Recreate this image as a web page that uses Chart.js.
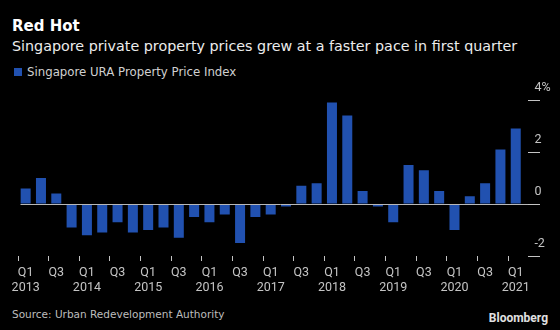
<!DOCTYPE html>
<html>
<head>
<meta charset="utf-8">
<script src="https://cdn.jsdelivr.net/npm/chart.js@4"></script>
<style>
  html, body { margin: 0; padding: 0; background: #000; }
  body { width: 560px; height: 330px; position: relative; overflow: hidden; font-family: "DejaVu Sans", sans-serif; }
  .txt { position: absolute; white-space: nowrap; line-height: 1; }
  #title { left: 12px; top: 19px; font-size: 15px; font-weight: bold; color: #fff; }
  #subtitle { left: 12px; top: 38.6px; font-size: 14.3px; color: #ececec; }
  #legend { left: 14px; top: 66.7px; font-size: 11.75px; color: #d0d0d0; }
  #legend i { display: inline-block; width: 8px; height: 8px; background: #2151b0; margin-right: 5px; vertical-align: 0; }
  #source { left: 12px; top: 309.4px; font-size: 10.5px; color: #bdbdbd; }
  #brand { right: 12px; top: 312px; font-size: 12px; font-weight: bold; color: #e0e0e0; font-family: Roboto, sans-serif; }
  #wrap { position: absolute; left: 0; top: 80px; width: 560px; height: 215px; }
</style>
</head>
<body>
<div class="txt" id="title">Red Hot</div>
<div class="txt" id="subtitle">Singapore private property prices grew at a faster pace in first quarter</div>
<div class="txt" id="legend"><i></i>Singapore URA Property Price Index</div>
<div class="txt" id="source">Source: Urban Redevelopment Authority</div>
<div class="txt" id="brand">Bloomberg</div>
<div id="wrap"><canvas id="chart"></canvas></div>
<script>
    // Quarterly change in the URA private residential price index, %
    const years = [2013, 2014, 2015, 2016, 2017, 2018, 2019, 2020, 2021];
    const quarterNames = ['Q1', 'Q2', 'Q3', 'Q4'];
    const priceChange = [
        0.6, 1.0, 0.4, -0.9,
        -1.2, -1.1, -0.7, -1.1,
        -1.0, -0.9, -1.3, -0.5,
        -0.7, -0.4, -1.5, -0.5,
        -0.4, -0.1, 0.7, 0.8,
        3.9, 3.4, 0.5, -0.1,
        -0.7, 1.5, 1.3, 0.5,
        -1.0, 0.3, 0.8, 2.1,
        2.9
    ];
    const yTicks = [-2, 0, 2, 4];

    const quarters = [];
    years.forEach(y => quarterNames.forEach(q => quarters.push({ year: y, q: q })));
    const categories = quarters.slice(0, priceChange.length);

    const axisColor = '#c4c4c4';

    // Short tick marks on the right side plus the zero baseline
    const rightTicks = {
        id: 'rightTicks',
        afterDatasetsDraw(chart) {
            const { ctx, chartArea, scales } = chart;
            const y = scales.y;
            ctx.save();
            ctx.lineWidth = 1;
            ctx.strokeStyle = '#b8b8b8';
            const y0 = Math.round(y.getPixelForValue(0)) + 0.5;
            ctx.beginPath();
            ctx.moveTo(chartArea.left + 2.5, y0);
            ctx.lineTo(540, y0);
            ctx.stroke();
            ctx.strokeStyle = axisColor;
            yTicks.forEach(v => {
                const py = Math.round(y.getPixelForValue(v)) + 0.5;
                ctx.beginPath();
                ctx.moveTo(528, py);
                ctx.lineTo(540, py);
                ctx.stroke();
            });
            ctx.restore();
        }
    };

    new Chart(document.getElementById('chart'), {
        type: 'bar',
        data: {
            labels: categories.map(c => c.q + ' ' + c.year),
            datasets: [{
                label: 'Singapore URA Property Price Index',
                data: priceChange,
                backgroundColor: '#2151b0',
                borderWidth: 0,
                categoryPercentage: 1,
                barPercentage: 0.653
            }]
        },
        options: {
            responsive: true,
            maintainAspectRatio: false,
            animation: false,
            layout: { padding: { left: 18, top: 20, right: 0, bottom: 0 } },
            plugins: {
                legend: { display: false },
                tooltip: { enabled: false }
            },
            scales: {
                x: {
                    offset: true,
                    border: { display: false },
                    grid: {
                        drawOnChartArea: false,
                        drawTicks: true,
                        tickLength: 5,
                        tickColor: ctx => ctx.index % 2 === 0 ? axisColor : 'rgba(0,0,0,0)'
                    },
                    ticks: {
                        autoSkip: false,
                        maxRotation: 0,
                        padding: 4,
                        color: axisColor,
                        font: { family: 'Roboto', size: 12.5, lineHeight: '15px' },
                        callback: (value, index) => {
                            const c = categories[index];
                            if (c.q === 'Q1') return ['Q1', String(c.year)];
                            if (c.q === 'Q3') return 'Q3';
                            return '';
                        }
                    },
                    afterFit: scale => { scale.height = 39; }
                },
                y: {
                    position: 'right',
                    min: -2,
                    max: 4,
                    border: { display: false },
                    grid: { display: true, drawOnChartArea: false, drawTicks: false },
                    afterBuildTicks: scale => { scale.ticks = yTicks.map(v => ({ value: v })); },
                    ticks: {
                        padding: 11,
                        labelOffset: -12,
                        color: axisColor,
                        font: { family: 'Roboto', size: 12.5 },
                        callback: v => v === 4 ? '4%' : String(v)
                    },
                    afterFit: scale => { scale.width = 36.6; }
                }
            }
        },
        plugins: [rightTicks]
    });
</script>
</body>
</html>
